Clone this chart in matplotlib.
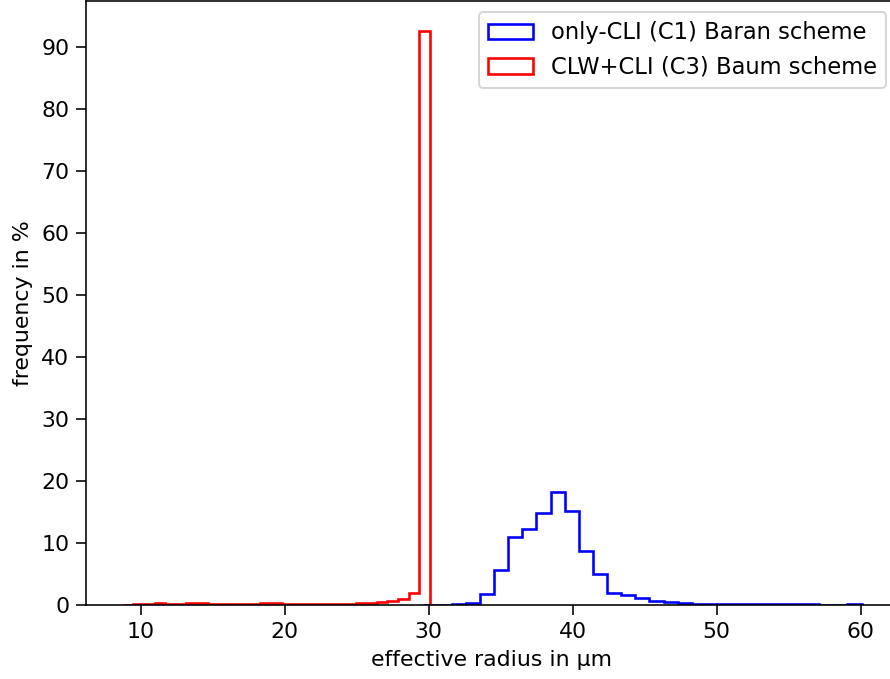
import numpy as np
import matplotlib
matplotlib.use("Agg")
import matplotlib.pyplot as plt
from matplotlib.ticker import MultipleLocator

# only-CLI (C1) Baran scheme: bins from 29.62 to 60.06
baran_edges = np.linspace(29.62, 60.06, 32)
baran_freq = [0.0, 0.03, 0.1, 0.37, 1.77, 5.6, 11.0, 12.2, 14.8, 18.2, 15.2,
              8.7, 5.0, 2.0, 1.6, 1.1, 0.65, 0.5, 0.27, 0.2, 0.15,
              0.08, 0.08, 0.08, 0.08, 0.08, 0.08, 0.08, 0.0, 0.0, 0.1]

# CLW+CLI (C3) Baum scheme: bins from 8.75 to 30.07
baum_edges = np.linspace(8.75, 30.07, 30)
baum_freq = [0.05, 0.1, 0.2, 0.25, 0.2, 0.15, 0.25, 0.25, 0.2, 0.15,
             0.15, 0.15, 0.2, 0.25, 0.25, 0.2, 0.15, 0.2, 0.2, 0.2,
             0.2, 0.2, 0.3, 0.3, 0.45, 0.65, 0.95, 1.9, 92.6]

plt.rcParams['font.size'] = 11
plt.rcParams['xtick.major.size'] = 4.8
plt.rcParams['ytick.major.size'] = 4.8

fig = plt.figure(figsize=(890 / 144, 679 / 144), dpi=144)
# axes runs a little past the right edge of the picture
ax = fig.add_axes([0.0966, 0.109, 0.912, 0.8895])

ax.hist(baran_edges[:-1], bins=baran_edges, weights=baran_freq,
        histtype='step', color='blue', linewidth=1.3,
        label='only-CLI (C1) Baran scheme')
ax.hist(baum_edges[:-1], bins=baum_edges, weights=baum_freq,
        histtype='step', color='red', linewidth=1.3,
        label='CLW+CLI (C3) Baum scheme')

ax.set_xlim(6.19, 62.57)
ax.set_ylim(0, 97.4)
ax.yaxis.set_major_locator(MultipleLocator(10))
ax.set_xlabel('effective radius in µm')
ax.set_ylabel('frequency in %')
ax.legend(loc='upper right', fontsize=11.3)

plt.savefig('out.png', dpi=144)
